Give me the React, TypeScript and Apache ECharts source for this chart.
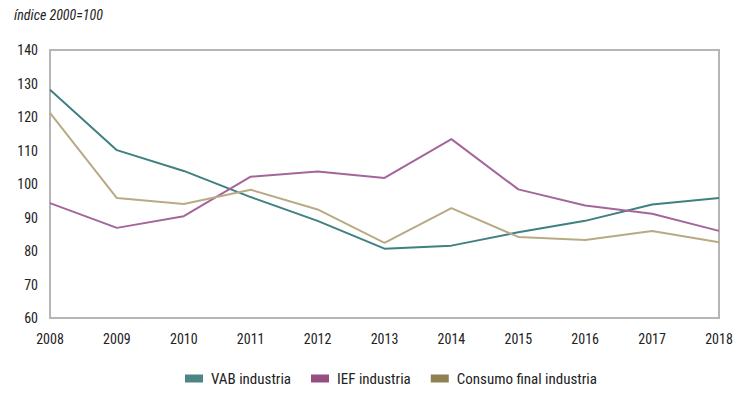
import React, { useEffect, useRef } from "react";
import * as echarts from "echarts";

const years = ["2008", "2009", "2010", "2011", "2012", "2013", "2014", "2015", "2016", "2017", "2018"];
const vab = [128.1, 110.1, 103.9, 96.1, 89.0, 80.7, 81.6, 85.6, 89.0, 93.9, 95.8];
const ief = [94.3, 86.9, 90.4, 102.2, 103.7, 101.8, 113.4, 98.4, 93.6, 91.1, 86.0];
const consumo = [121.2, 95.8, 94.0, 98.3, 92.4, 82.4, 92.8, 84.2, 83.3, 86.0, 82.6];

const FONT = "'Roboto Condensed', 'Liberation Sans Narrow', 'DejaVu Sans Condensed', sans-serif";

export default function App() {
  const ref = useRef<HTMLDivElement>(null);
  useEffect(() => {
    const chart = echarts.init(ref.current!, null, { renderer: "svg" });
    chart.setOption({
      animation: false,
      textStyle: { fontFamily: FONT },
      title: {
        text: "índice 2000=100",
        left: 6,
        top: 0,
        padding: 0,
        textStyle: { fontFamily: FONT, fontSize: 14, fontStyle: "italic", fontWeight: "normal", color: "#222" },
      },
      grid: {
        left: 42,
        right: 19,
        top: 42,
        bottom: 69,
        show: true,
        borderColor: "#b5b5b5",
        borderWidth: 2,
        containLabel: false,
      },
      legend: {
        top: 363,
        left: 177,
        padding: 0,
        icon: "rect",
        itemWidth: 18,
        itemHeight: 8,
        itemGap: 20,
        textStyle: { fontFamily: FONT, fontSize: 15, color: "#222", padding: [0, 0, 0, 3] },
        data: ["VAB industria", "IEF industria", "Consumo final industria"],
      },
      xAxis: {
        type: "category",
        data: years,
        boundaryGap: false,
        axisLine: { show: false },
        axisTick: { show: false },
        axisLabel: { fontFamily: FONT, fontSize: 14, color: "#222", margin: 14 },
        splitLine: { show: false },
      },
      yAxis: {
        type: "value",
        min: 60,
        max: 140,
        interval: 10,
        axisLine: { show: false },
        axisTick: { show: false },
        axisLabel: { fontFamily: FONT, fontSize: 14, color: "#222", margin: 12 },
        splitLine: { show: false },
      },
      series: [
        {
          name: "VAB industria",
          type: "line",
          data: vab,
          symbol: "none",
          itemStyle: { color: "#4c8584" },
          lineStyle: { color: "#3f8180", width: 2 },
        },
        {
          name: "IEF industria",
          type: "line",
          data: ief,
          symbol: "none",
          itemStyle: { color: "#944f80" },
          lineStyle: { color: "#a4669a", width: 2 },
        },
        {
          name: "Consumo final industria",
          type: "line",
          data: consumo,
          symbol: "none",
          itemStyle: { color: "#8f8152" },
          lineStyle: { color: "#b8aa85", width: 2 },
        },
      ],
    });
    return () => chart.dispose();
  }, []);
  return <div ref={ref} style={{ width: 730, height: 379 }} />;
}
